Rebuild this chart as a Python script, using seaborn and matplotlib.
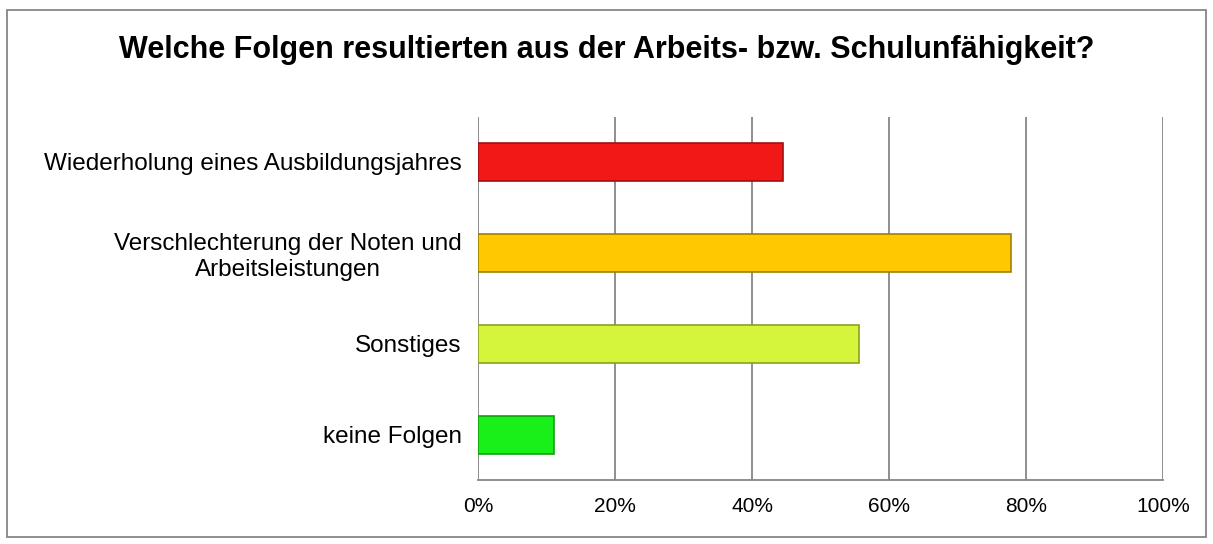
import matplotlib
matplotlib.use("Agg")
import matplotlib.pyplot as plt
import seaborn as sns
import pandas as pd
from matplotlib.patches import Rectangle
from matplotlib.ticker import FuncFormatter

categories = ["Wiederholung eines Ausbildungsjahres",
              "Verschlechterung der Noten und\nArbeitsleistungen",
              "Sonstiges",
              "keine Folgen"]
values = [44.5, 77.8, 55.6, 11.1]
colors = ["#F21818", "#FFC800", "#D4F53C", "#19F019"]
edge_colors = ["#A01010", "#A08000", "#8CA020", "#10A010"]
xticks = [0, 20, 40, 60, 80, 100]

sns.set_theme(style="white")
plt.rcParams['font.family'] = ['Liberation Sans', 'DejaVu Sans']

df = pd.DataFrame({"cat": categories, "val": values})

fig = plt.figure(figsize=(12.13, 5.44), dpi=100)
ax = fig.add_axes([0.3943, 0.1176, 0.9588 - 0.3943, 0.7858 - 0.1176])

sns.barplot(data=df, y="cat", x="val", hue="cat", palette=colors, legend=False,
            orient="h", width=0.42, ax=ax, saturation=1)
for patch, ec in zip(ax.patches, edge_colors):
    patch.set_edgecolor(ec)
    patch.set_linewidth(1.2)
    patch.set_zorder(3)

ax.set_xlim(0, 100)
ax.set_ylim(3.5, -0.5)
ax.set_xticks(xticks)
ax.xaxis.set_major_formatter(FuncFormatter(lambda v, p: f"{int(v)}%"))
ax.grid(axis="x", color="#868686", linewidth=1.3, zorder=0)
ax.set_axisbelow(True)
for s in ["top", "right", "left"]:
    ax.spines[s].set_visible(False)
ax.spines["bottom"].set_color("#868686")
ax.spines["bottom"].set_linewidth(1.3)
ax.set_xlabel("")
ax.set_ylabel("")
ax.tick_params(axis="y", length=0, pad=12, labelsize=17.5, labelcolor="black")
ax.tick_params(axis="x", length=0, pad=12, labelsize=15, labelcolor="black")
for lbl in ax.get_yticklabels():
    lbl.set_horizontalalignment("right")
    lbl.set_multialignment("center")
    lbl.set_linespacing(1.2)

fig.text(0.5, 1 - 50 / 544, "Welche Folgen resultierten aus der Arbeits- bzw. Schulunfähigkeit?",
         ha="center", va="center", fontsize=22, fontweight="bold", color="black")

fig.patches.append(Rectangle((7 / 1213, 1 - 537 / 544), (1206 - 7) / 1213, (537 - 10) / 544,
                             transform=fig.transFigure, fill=False,
                             edgecolor="#868686", linewidth=1.3))

fig.savefig("out.png", dpi=100)
